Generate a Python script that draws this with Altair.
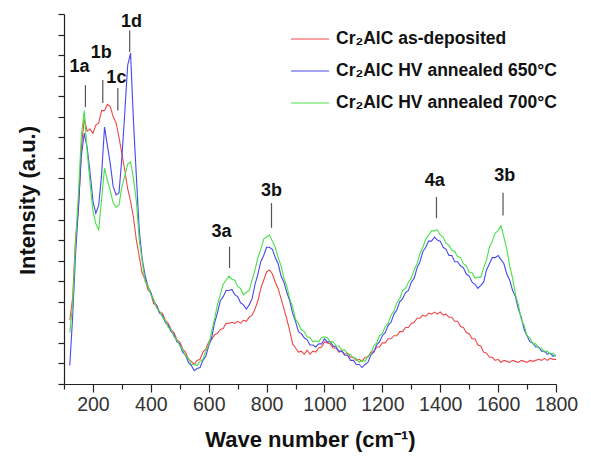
import altair as alt
import pandas as pd

# Raman spectra (wave number grid, intensity in a.u.)
wavenumber = list(range(120, 1801, 10))

as_deposited = [3.1, 4.2, 7.1, 8.5, 11.5, 12.9, 12.3, 12.4, 12.2, 12.6,
 12.7, 13.3, 13.3, 13.6, 13.5, 13.0, 12.7, 12.0, 11.2, 10.4,
 9.5, 8.9, 8.1, 7.0, 6.2, 5.4, 5.1, 4.6, 4.4, 3.9,
 3.85, 3.5, 3.45, 3.1, 2.95, 2.65, 2.5, 2.15, 2.05, 1.7,
 1.55, 1.2, 1.1, 0.95, 1.15, 1.2, 1.55, 1.7, 2.05, 2.15,
 2.4, 2.45, 2.65, 2.7, 2.95, 2.95, 3.0, 2.95, 3.05, 2.95,
 3.1, 3.05, 3.25, 3.35, 3.65, 4.05, 4.65, 5.05, 5.45, 5.55,
 5.35, 4.95, 4.65, 4.15, 3.65, 3.15, 2.6, 1.95, 1.75, 1.55,
 1.6, 1.45, 1.65, 1.45, 1.6, 1.55, 1.75, 1.8, 2.05, 2.0,
 1.95, 1.75, 1.75, 1.55, 1.6, 1.45, 1.5, 1.3, 1.3, 1.15,
 1.2, 1.1, 1.3, 1.3, 1.55, 1.55, 1.8, 1.8, 2.0, 2.0,
 2.2, 2.2, 2.35, 2.35, 2.55, 2.55, 2.75, 2.75, 2.95, 3.0,
 3.2, 3.2, 3.35, 3.3, 3.45, 3.4, 3.5, 3.4, 3.5, 3.35,
 3.4, 3.25, 3.25, 3.05, 3.05, 2.8, 2.75, 2.5, 2.45, 2.2,
 2.2, 1.9, 1.85, 1.55, 1.5, 1.3, 1.3, 1.15, 1.2, 1.05,
 1.15, 1.1, 1.05, 1.15, 1.1, 1.05, 1.15, 1.1, 1.05, 1.15,
 1.1, 1.15, 1.2, 1.15, 1.25, 1.15, 1.25, 1.2, 1.2]

annealed_650 = [0.9, 3.3, 6.3, 8.6, 11.1, 12.2, 11.5, 10.3, 8.9, 8.3,
 8.7, 10.2, 12.5, 11.6, 10.7, 9.6, 9.2, 9.3, 11.0, 13.2,
 15.5, 16.1, 12.8, 10.1, 7.5, 6.1, 5.3, 4.75, 4.45, 4.05,
 3.8, 3.45, 3.35, 3.0, 2.85, 2.55, 2.4, 2.05, 1.95, 1.55,
 1.4, 1.05, 0.9, 0.65, 0.75, 0.8, 1.15, 1.35, 1.85, 2.25,
 2.95, 3.45, 4.05, 4.25, 4.55, 4.55, 4.6, 4.35, 4.25, 3.95,
 3.85, 3.65, 3.85, 4.15, 4.85, 5.35, 5.95, 6.25, 6.65, 6.65,
 6.55, 6.15, 5.85, 5.25, 4.95, 4.45, 4.05, 3.45, 3.05, 2.55,
 2.45, 2.25, 2.15, 1.9, 1.9, 1.8, 1.95, 1.95, 2.2, 2.05,
 2.05, 1.85, 1.8, 1.6, 1.6, 1.4, 1.4, 1.15, 1.15, 0.95,
 0.95, 0.8, 0.95, 1.05, 1.4, 1.55, 1.9, 2.05, 2.35, 2.5,
 2.85, 3.0, 3.4, 3.6, 4.0, 4.15, 4.45, 4.55, 4.95, 5.15,
 5.65, 5.95, 6.45, 6.65, 6.95, 6.95, 7.15, 7.0, 6.95, 6.65,
 6.55, 6.25, 6.25, 5.95, 5.95, 5.75, 5.65, 5.35, 5.25, 4.95,
 4.85, 4.65, 4.8, 4.95, 5.55, 5.85, 6.15, 6.15, 6.25, 6.05,
 5.85, 5.35, 5.05, 4.55, 4.25, 3.65, 3.25, 2.65, 2.35, 2.05,
 2.0, 1.8, 1.8, 1.6, 1.6, 1.45, 1.5, 1.35, 1.4]

annealed_700 = [2.5, 3.9, 6.9, 9.3, 12.1, 13.3, 11.3, 9.8, 8.4, 7.8,
 7.5, 9.0, 10.5, 9.9, 9.4, 8.8, 8.6, 8.7, 9.6, 10.1,
 10.7, 10.8, 10.0, 8.9, 7.0, 6.0, 5.0, 4.8, 4.35, 4.1,
 3.7, 3.55, 3.25, 3.1, 2.75, 2.65, 2.3, 2.15, 1.85, 1.7,
 1.35, 1.25, 0.95, 0.95, 0.9, 1.1, 1.2, 1.6, 1.9, 2.55,
 3.15, 3.85, 4.35, 4.85, 5.05, 5.25, 5.1, 5.05, 4.75, 4.65,
 4.35, 4.45, 4.55, 5.05, 5.55, 6.15, 6.55, 7.05, 7.15, 7.25,
 6.95, 6.65, 6.15, 5.75, 5.15, 4.75, 4.15, 3.75, 3.15, 2.95,
 2.65, 2.55, 2.3, 2.25, 2.05, 2.1, 2.05, 2.25, 2.3, 2.25,
 2.05, 2.05, 1.85, 1.85, 1.65, 1.65, 1.45, 1.45, 1.25, 1.25,
 1.05, 1.15, 1.1, 1.35, 1.45, 1.85, 2.0, 2.35, 2.45, 2.8,
 2.95, 3.35, 3.55, 3.95, 4.15, 4.55, 4.65, 4.95, 5.15, 5.55,
 5.85, 6.35, 6.65, 7.05, 7.25, 7.45, 7.45, 7.5, 7.25, 7.15,
 6.85, 6.75, 6.5, 6.45, 6.2, 6.15, 5.85, 5.75, 5.45, 5.4,
 5.15, 5.2, 5.2, 5.65, 6.05, 6.65, 6.95, 7.35, 7.45, 7.7,
 7.15, 6.55, 5.75, 5.15, 4.35, 3.85, 3.15, 2.85, 2.35, 2.25,
 1.95, 1.95, 1.75, 1.75, 1.55, 1.6, 1.45, 1.5, 1.35]

series_names = ["Cr₂AlC as-deposited", "Cr₂AlC HV annealed 650°C", "Cr₂AlC HV annealed 700°C"]
series_colors = ["#f04848", "#4848f0", "#48e048"]

# Peak annotations
peak_labels = ["1a", "1b", "1c", "1d", "3a", "3b", "4a", "3b"]
peak_label_x = [154, 229, 281, 333, 644, 817, 1381, 1623]
peak_label_y = [15.4, 16.1, 14.9, 17.6, 7.4, 9.4, 9.9, 10.1]
peak_tick_x = [174, 234, 286, 327, 672, 817, 1387, 1617]
peak_tick_y1 = [13.47, 13.67, 13.3, 16.15, 5.64, 7.6, 8.07, 8.2]
peak_tick_y2 = [14.54, 14.79, 14.4, 17.2, 6.68, 8.8, 9.1, 9.3]

x_ticks = list(range(100, 1801, 100))
y_ticks = list(range(0, 19))

rows = []
for name, vals in zip(series_names, [as_deposited, annealed_650, annealed_700]):
    for w, v in zip(wavenumber, vals):
        rows.append({"wn": w, "I": v, "series": name})
df = pd.DataFrame(rows)

ticks_df = pd.DataFrame({"wn": peak_tick_x, "I": peak_tick_y1, "I2": peak_tick_y2})
labels_df = pd.DataFrame({"wn": peak_label_x, "I": peak_label_y, "label": peak_labels})

FONT = "Liberation Sans"
x_scale = alt.Scale(domain=[100, 1800], nice=False, zero=False)
y_scale = alt.Scale(domain=[0, 18], nice=False, zero=False)

x_axis = alt.Axis(
    values=x_ticks, format="d", labelOverlap=False, labelFlush=False,
    labelExpr="datum.value % 200 == 0 ? datum.label : ''",
    tickSize={"condition": {"test": "datum.value % 200 == 0", "value": 8}, "value": 5},
    title="Wave number (cm⁻¹)", titleX=246, titleY=55,
    titleAlign="center", titleBaseline="middle",
    labelFontSize=19.5, labelPadding=3, labelColor="#333",
)
y_axis = alt.Axis(
    values=y_ticks, labels=False, tickSize=6,
    title="Intensity (a.u.)", titleX=-37, titleY=186, titleAngle=270,
    titleAlign="center", titleBaseline="middle",
)
X = alt.X("wn:Q", scale=x_scale, axis=x_axis, title="Wave number (cm⁻¹)")
Y = alt.Y("I:Q", scale=y_scale, axis=y_axis, title="Intensity (a.u.)")

lines = alt.Chart(df).mark_line(strokeWidth=1.1, clip=True).encode(
    x=X, y=Y,
    color=alt.Color("series:N", scale=alt.Scale(domain=series_names, range=series_colors),
                    legend=alt.Legend(
                        title=None, orient="none", legendX=226, legendY=5,
                        direction="vertical", symbolType="stroke", symbolSize=1444,
                        symbolStrokeWidth=1.2, labelFontSize=17.5, labelFontWeight="bold",
                        labelFont=FONT, labelColor="#111", labelOffset=6, labelLimit=400,
                        rowPadding=3, padding=0,
                    )),
)

ticks = alt.Chart(ticks_df).mark_rule(color="#555", strokeWidth=1.2).encode(
    x=X, y=Y, y2="I2:Q",
)

texts = alt.Chart(labels_df).mark_text(font=FONT, fontSize=18, fontWeight="bold", color="#111",
                                       align="center", baseline="middle").encode(
    x=X, y=Y, text="label:N",
)

chart = alt.layer(lines, ticks, texts).properties(
    width=492, height=370,
    autosize=alt.AutoSizeParams(type="none"),
    padding={"left": 56, "top": 6, "right": 27, "bottom": 73},
).configure_view(stroke=None).configure_axis(
    grid=False, domainColor="#222", tickColor="#222", domainWidth=1.2, tickWidth=1.2,
    labelFont=FONT, titleFont=FONT, titleFontSize=22, titleFontWeight="bold", titleColor="#111",
)

chart.save("out.html", embed_options={"renderer": "svg", "actions": False})
